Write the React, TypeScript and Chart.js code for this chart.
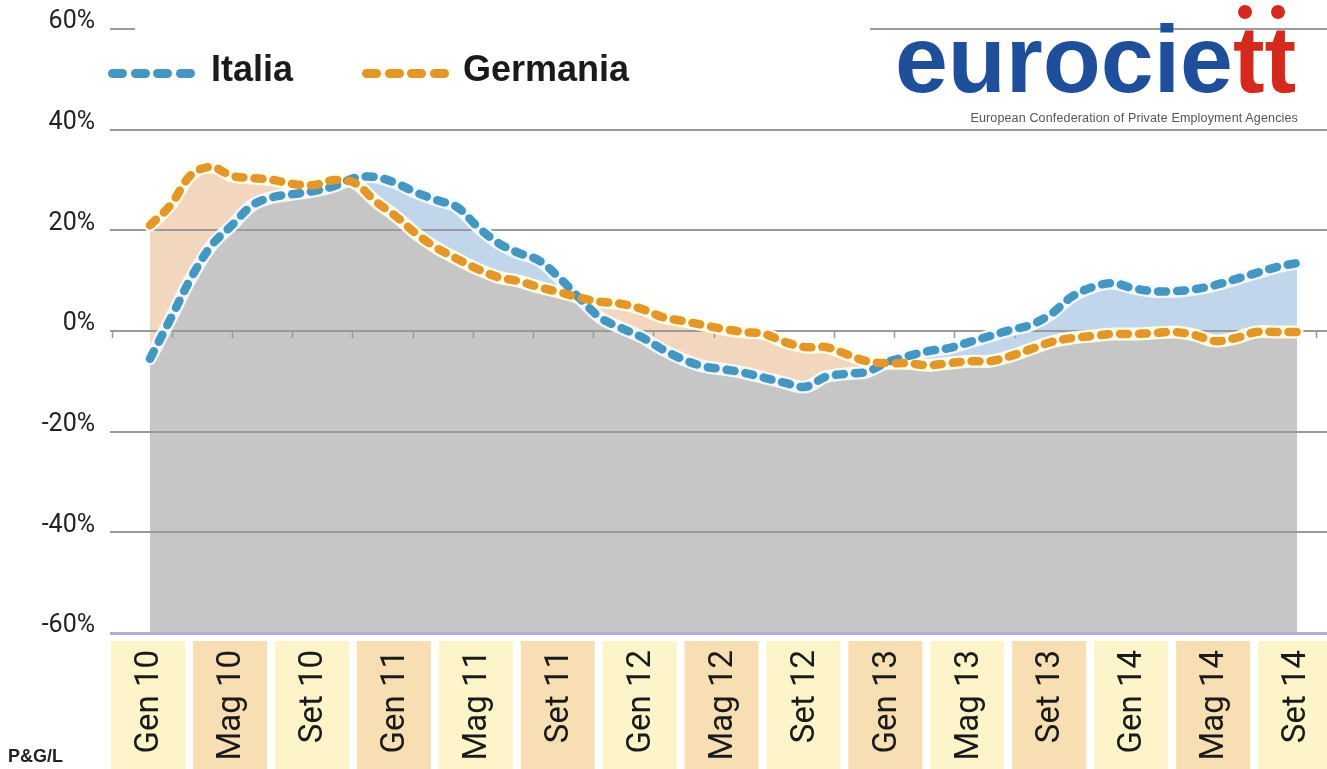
import React, { useEffect, useRef } from 'react';
import { Chart, registerables } from 'chart.js';

Chart.register(...registerables);

// ---- Data (monthly, Gen 2010 – Set 2014) ----
const monthNames = ['Gen', 'Feb', 'Mar', 'Apr', 'Mag', 'Giu', 'Lug', 'Ago', 'Set', 'Ott', 'Nov', 'Dic'];
const years = ['10', '11', '12', '13', '14'];
const categories: string[] = [];
years.forEach((yy) => monthNames.forEach((m) => categories.push(`${m} ${yy}`)));
const monthCount = 57; // Gen 10 .. Set 14
const months = categories.slice(0, monthCount);

const tickLabels = ['Gen 10', 'Mag 10', 'Set 10', 'Gen 11', 'Mag 11', 'Set 11', 'Gen 12', 'Mag 12', 'Set 12', 'Gen 13', 'Mag 13', 'Set 13', 'Gen 14', 'Mag 14', 'Set 14'];

const italia = [
  -5.5, 2.4, 10.5, 17, 21, 25, 26.6, 27.2, 27.8, 28.8,
  30.4, 30.6, 29.4, 27.5, 26, 24.6, 20.7, 17.5, 15.5, 14,
  10.5, 6.4, 2.6, 0.6, -1.2, -3.6, -5.6, -7, -7.6, -8.3,
  -9.3, -10.3, -11.1, -9.1, -8.5, -8.1, -6.2, -5, -4, -3.4,
  -2.2, -1, 0.2, 1.2, 3.4, 6.8, 8.7, 9.5, 8.5, 7.9,
  7.9, 8.3, 9.1, 10.3, 11.5, 12.7, 13.5,
];

const germania = [
  21, 25, 31, 32.6, 30.8, 30.4, 30, 29.2, 29, 30,
  29.4, 25.8, 22.8, 19.3, 16.5, 14.3, 12.3, 10.7, 9.9, 8.7,
  7.7, 6.6, 5.8, 5.4, 4.4, 2.8, 2, 1.2, 0.4, -0.2,
  -0.6, -2.2, -3.2, -3.2, -4.6, -6, -6.4, -6.4, -6.8, -6.4,
  -6, -6, -5, -3.6, -2.2, -1.4, -1, -0.6, -0.6, -0.4,
  -0.2, -0.8, -2, -1.4, -0.2, -0.2, -0.2,
];

const yTicks = [-60, -40, -20, 0, 20, 40, 60];

// ---- Styles ----
const ITALIA_COLOR = '#4596c0';
const GERMANIA_COLOR = '#e3962a';
const GRAY_FILL = '#c6c6c6';
const PEACH_FILL = '#f2d6bd';
const BLUE_FILL = '#c1d6ea';
const BOX_COLORS = ['#fdf5c9', '#f8dfb3'];
const LOGO_BLUE = '#1f4e9b';
const LOGO_RED = '#d42a1e';

const toPoints = (arr: number[]) => arr.map((v, i) => ({ x: i, y: v }));

const labelBoxes = {
  id: 'labelBoxes',
  beforeDraw(chart: any) {
    const { ctx } = chart;
    const xs = chart.scales.x;
    ctx.save();
    xs.ticks.forEach((t: any, idx: number) => {
      const px = xs.getPixelForValue(t.value) - 2;
      ctx.fillStyle = BOX_COLORS[idx % 2];
      ctx.fillRect(px - 37, xs.top + 8, 74, chart.height - xs.top - 8);
    });
    ctx.restore();
  },
};

const minorTicks = {
  id: 'minorTicks',
  beforeDatasetsDraw(chart: any) {
    const { ctx } = chart;
    const xs = chart.scales.x;
    const ys = chart.scales.y;
    const y0 = ys.getPixelForValue(0);
    ctx.save();
    ctx.strokeStyle = '#9a9a9a';
    ctx.lineWidth = 1.5;
    for (let k = 0; k <= 20; k++) {
      const px = Math.round(xs.getPixelForValue(-1.875 + k * 2.939)) + 0.5;
      ctx.beginPath();
      ctx.moveTo(px, y0);
      ctx.lineTo(px, y0 + 7);
      ctx.stroke();
    }
    ctx.restore();
  },
};

function ChartView() {
  const ref = useRef<HTMLCanvasElement | null>(null);
  useEffect(() => {
    if (!ref.current) return;
    const dashed = {
      borderWidth: 8.5,
      borderDash: [8, 11],
      borderCapStyle: 'round',
      borderJoinStyle: 'round',
      pointRadius: 0,
      tension: 0.35,
    };
    const halo = {
      borderWidth: 13,
      borderCapStyle: 'round',
      borderJoinStyle: 'round',
      pointRadius: 0,
      tension: 0.35,
      backgroundColor: GRAY_FILL,
      fill: { target: 'start', above: GRAY_FILL, below: GRAY_FILL },
    };
    const chart = new Chart(ref.current, {
      type: 'line',
      data: {
        datasets: [
          {
            ...dashed,
            label: 'Germania',
            data: toPoints(germania),
            borderColor: GERMANIA_COLOR,
            fill: { target: 1, above: PEACH_FILL, below: BLUE_FILL },
          },
          {
            ...dashed,
            label: 'Italia',
            data: toPoints(italia),
            borderColor: ITALIA_COLOR,
            fill: false,
          },
          {
            ...halo,
            label: 'Germania bordo',
            data: toPoints(germania),
            borderColor: 'rgba(255,255,232,0.95)',
          },
          {
            ...halo,
            label: 'Italia bordo',
            data: toPoints(italia),
            borderColor: 'rgba(242,250,255,0.95)',
          },
        ],
      } as any,
      options: {
        animation: false,
        responsive: false,
        devicePixelRatio: 1,
        layout: { padding: { top: 29, left: 0, right: 0, bottom: 0 } },
        plugins: {
          legend: { display: false },
          tooltip: { enabled: false },
          filler: { drawTime: 'beforeDraw' } as any,
        },
        scales: {
          x: {
            type: 'linear',
            min: -1.953,
            max: 57.465,
            grid: { display: false, drawTicks: false },
            border: { display: false },
            afterBuildTicks: (s: any) => {
              s.ticks = tickLabels.map((lab) => ({ value: months.indexOf(lab) }));
            },
            afterFit: (s: any) => {
              s.height = 136;
              s.paddingLeft = 0;
              s.paddingRight = 0;
            },
            ticks: {
              autoSkip: false,
              minRotation: 90,
              maxRotation: 90,
              padding: 17,
              color: '#1a1a1a',
              font: { family: 'Roboto', size: 33 },
              callback: (v: any) => months[Math.round(Number(v))],
            },
          },
          y: {
            min: -60,
            max: 60,
            afterBuildTicks: (s: any) => {
              s.ticks = yTicks.map((v) => ({ value: v }));
            },
            afterFit: (s: any) => {
              s.width = 110;
              s.paddingTop = 0;
              s.paddingBottom = 0;
            },
            border: { display: false },
            grid: {
              drawTicks: false,
              color: (c: any) => (c.tick && c.tick.value === -60 ? '#aeaed6' : '#9a9a9a'),
              lineWidth: (c: any) => (c.tick && c.tick.value === -60 ? 3 : 2),
            },
            ticks: {
              padding: 15,
              labelOffset: -7,
              color: '#222',
              font: { family: 'Roboto', size: 25 },
              callback: (v: any) => `${v}%`,
            },
          },
        },
      } as any,
      plugins: [labelBoxes, minorTicks],
    });
    return () => chart.destroy();
  }, []);
  return <canvas ref={ref} width={1327} height={769} style={{ display: 'block', width: 1327, height: 769 }} />;
}

function LegendDashes({ color }: { color: string }) {
  return (
    <div style={{ display: 'flex', gap: 3.5 }}>
      {[0, 1, 2, 3].map((k) => (
        <span
          key={k}
          style={{ display: 'block', width: 19, height: 9, borderRadius: 5, background: color, boxShadow: '0 0 0 1px rgba(255,255,230,0.9)' }}
        />
      ))}
    </div>
  );
}

export default function App() {
  const legendText: React.CSSProperties = {
    fontFamily: '"Liberation Sans", Arial, sans-serif',
    fontWeight: 700,
    fontSize: 36,
    lineHeight: '36px',
    color: '#1a1a1a',
    position: 'absolute',
    top: 51,
    whiteSpace: 'nowrap',
  };
  return (
    <div style={{ position: 'absolute', left: 0, top: 0, width: 1327, height: 769, background: '#fff', overflow: 'hidden' }}>
      <ChartView />
      {/* mask over the top grid line behind the legend */}
      <div style={{ position: 'absolute', left: 135, top: 20, width: 735, height: 20, background: '#fff' }} />
      {/* legend */}
      <div style={{ position: 'absolute', left: 108, top: 69 }}>
        <LegendDashes color={ITALIA_COLOR} />
      </div>
      <div style={{ ...legendText, left: 211 }}>Italia</div>
      <div style={{ position: 'absolute', left: 362, top: 69 }}>
        <LegendDashes color={GERMANIA_COLOR} />
      </div>
      <div style={{ ...legendText, left: 463 }}>Germania</div>
      {/* logo */}
      <div
        style={{
          position: 'absolute',
          left: 895,
          top: 12,
          fontFamily: '"Liberation Sans", Arial, sans-serif',
          fontWeight: 700,
          fontSize: 95,
          lineHeight: '95px',
          color: LOGO_BLUE,
          whiteSpace: 'nowrap',
        }}
      >
        eurocie<span style={{ color: LOGO_RED }}>tt</span>
      </div>
      <div style={{ position: 'absolute', left: 1238, top: 5, width: 14, height: 14, borderRadius: 7, background: LOGO_RED }} />
      <div style={{ position: 'absolute', left: 1271, top: 5, width: 14, height: 14, borderRadius: 7, background: LOGO_RED }} />
      <div
        style={{
          position: 'absolute',
          right: 29,
          top: 111,
          fontFamily: '"Liberation Sans", Arial, sans-serif',
          fontSize: 12.5,
          letterSpacing: 0.15,
          color: '#555',
          whiteSpace: 'nowrap',
        }}
      >
        European Confederation of Private Employment Agencies
      </div>
      <div
        style={{
          position: 'absolute',
          left: 8,
          top: 747,
          fontFamily: '"Liberation Sans", Arial, sans-serif',
          fontWeight: 700,
          fontSize: 18,
          lineHeight: '18px',
          color: '#222',
        }}
      >
        P&amp;G/L
      </div>
    </div>
  );
}
